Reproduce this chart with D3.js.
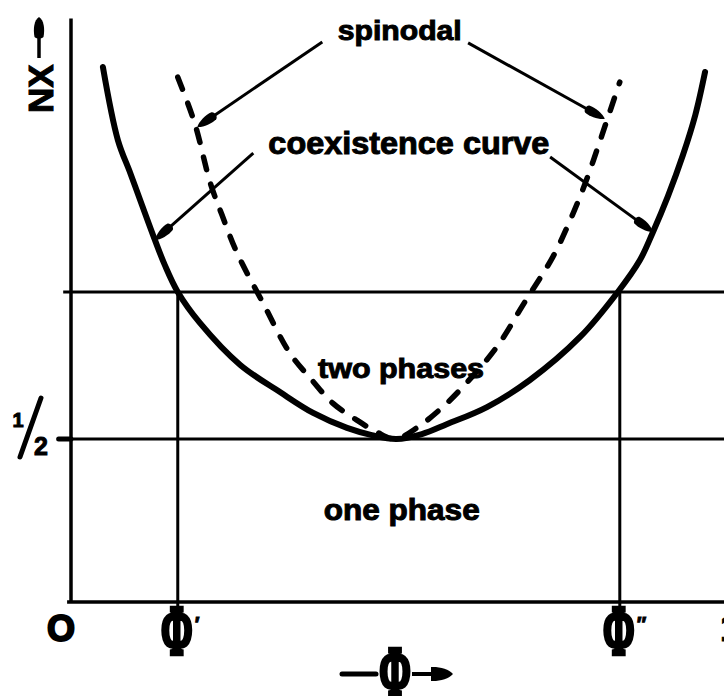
<!DOCTYPE html>
<html>
<head>
<meta charset="utf-8">
<script src="https://cdn.jsdelivr.net/npm/d3@7/dist/d3.min.js"></script>
<style>
  html, body { margin: 0; padding: 0; background: #fff; }
  svg { display: block; }
  text { font-family: "Liberation Sans", Arial, sans-serif; font-weight: bold; fill: #000; stroke: #000; stroke-width: 1px; }
  .serif { font-family: "Liberation Serif", "Times New Roman", serif; stroke-width: 2.4px; }
</style>
</head>
<body>
<script>
// Coexistence curve (binodal): composition Φ vs. NX
const coexPhi = [0.049, 0.072, 0.091, 0.109, 0.129, 0.144, 0.164, 0.198, 0.260, 0.321, 0.372, 0.424, 0.462, 0.500,
                 0.539, 0.578, 0.639, 0.705, 0.782, 0.840, 0.874, 0.894, 0.917, 0.940, 0.959, 0.974];
const coexNX  = [1.641, 1.417, 1.316, 1.218, 1.110, 1.034, 0.951, 0.856, 0.727, 0.644, 0.580, 0.534, 0.512, 0.500,
                 0.515, 0.546, 0.598, 0.681, 0.813, 0.951, 1.049, 1.135, 1.245, 1.371, 1.494, 1.626];

// Spinodal
const spinPhi = [0.164, 0.190, 0.214, 0.232, 0.255, 0.295, 0.336, 0.370, 0.402, 0.439, 0.470, 0.498,
                 0.531, 0.571, 0.602, 0.654, 0.697, 0.740, 0.767, 0.790, 0.808, 0.825, 0.843];
const spinNX  = [1.610, 1.469, 1.285, 1.187, 1.071, 0.917, 0.764, 0.681, 0.610, 0.558, 0.521, 0.500,
                 0.534, 0.598, 0.660, 0.782, 0.920, 1.058, 1.172, 1.285, 1.387, 1.488, 1.595];

// Reference levels and the two coexisting compositions
const nxLevels = [0.951, 0.5];
const nxTickLabel = ["1", "2"];           // drawn as the fraction 1/2
const phiCoexisting = [0.164, 0.843];
const phiCoexistingLabels = ["Φ", "Φ"];
const phiPrimes = ["′", "″"];

// Region labels and annotation arrows (Φ, NX)
const regionLabels = [
  { text: "two phases", phi: 0.507, nx: 0.687, size: 28, len: 166 },
  { text: "one phase",  phi: 0.508, nx: 0.252, size: 30, len: 156 }
];
const curveLabels = [
  { text: "spinodal",          phi: 0.505, nx: 1.724, size: 28, len: 124 },
  { text: "coexistence curve", phi: 0.519, nx: 1.374, size: 31, len: 281 }
];
const arrows = [
  { from: [0.386, 1.718], to: [0.194, 1.457] },
  { from: [0.610, 1.715], to: [0.820, 1.482] },
  { from: [0.280, 1.377], to: [0.129, 1.110] },
  { from: [0.736, 1.365], to: [0.894, 1.135] }
];

const W = 724, H = 696;
const svg = d3.select("body").append("svg").attr("width", W).attr("height", H);

const x = d3.scaleLinear().domain([0, 1]).range([71, 722]);
const y = d3.scaleLinear().domain([0, 1.8]).range([602, 15.2]);

const ink = "#000";

// Axes frame
svg.append("line").attr("x1", x(0)).attr("x2", x(0)).attr("y1", y(0) + 1).attr("y2", y(1.79))
  .attr("stroke", ink).attr("stroke-width", 3.5);
svg.append("line").attr("x1", x(-0.006)).attr("x2", x(1.01)).attr("y1", y(0)).attr("y2", y(0))
  .attr("stroke", ink).attr("stroke-width", 3.5);

// Horizontal reference levels
svg.append("line").attr("x1", x(-0.012)).attr("x2", x(1.01)).attr("y1", y(nxLevels[0])).attr("y2", y(nxLevels[0]))
  .attr("stroke", ink).attr("stroke-width", 3);
svg.append("line").attr("x1", x(-0.019)).attr("x2", x(1.01)).attr("y1", y(nxLevels[1])).attr("y2", y(nxLevels[1]))
  .attr("stroke", ink).attr("stroke-width", 3);
svg.append("line").attr("x1", x(-0.019)).attr("x2", x(0)).attr("y1", y(nxLevels[1])).attr("y2", y(nxLevels[1]))
  .attr("stroke", ink).attr("stroke-width", 5).attr("stroke-linecap", "round");

// Verticals at the coexisting compositions
phiCoexisting.forEach(p => {
  svg.append("line").attr("x1", x(p)).attr("x2", x(p)).attr("y1", y(nxLevels[0])).attr("y2", y(0) + 6)
    .attr("stroke", ink).attr("stroke-width", 3);
});

// Curves
const line = d3.line().x(d => x(d[0])).y(d => y(d[1])).curve(d3.curveCatmullRom.alpha(0.5));
svg.append("path").datum(coexPhi.map((p, i) => [p, coexNX[i]])).attr("d", line)
  .attr("fill", "none").attr("stroke", ink).attr("stroke-width", 6).attr("stroke-linecap", "round");
svg.append("path").datum(spinPhi.map((p, i) => [p, spinNX[i]])).attr("d", line)
  .attr("fill", "none").attr("stroke", ink).attr("stroke-width", 5.5).attr("stroke-linecap", "round")
  .attr("stroke-dasharray", "13 15");

// Leaf-shaped arrow head, tip at origin pointing along +x
const headPath = "M0,0 C-4,-3.5 -14,-5.5 -20,-4.2 C-23,-3 -23,3 -20,4.2 C-14,5.5 -4,3.5 0,0 Z";
function arrow(x1, y1, x2, y2, w, head) {
  const ang = Math.atan2(y2 - y1, x2 - x1);
  const g = svg.append("g");
  g.append("line").attr("x1", x1).attr("y1", y1)
    .attr("x2", x2 - 10 * Math.cos(ang)).attr("y2", y2 - 10 * Math.sin(ang))
    .attr("stroke", ink).attr("stroke-width", w);
  g.append("path").attr("d", head || headPath).attr("fill", ink)
    .attr("transform", `translate(${x2},${y2}) rotate(${ang * 180 / Math.PI})`);
}
arrows.forEach(a => arrow(x(a.from[0]), y(a.from[1]), x(a.to[0]), y(a.to[1]), 3));

// Curve and region labels
curveLabels.concat(regionLabels).forEach(l => {
  svg.append("text").attr("x", x(l.phi)).attr("y", y(l.nx)).attr("text-anchor", "middle")
    .attr("font-size", l.size).attr("textLength", l.len).attr("lengthAdjust", "spacingAndGlyphs")
    .text(l.text);
});

// Origin and right end of the composition axis
svg.append("text").attr("x", x(0) - 10).attr("y", y(0) + 39).attr("text-anchor", "middle")
  .attr("font-size", 36).style("stroke-width", "2px").text("O");
svg.append("text").attr("x", x(1) - 2).attr("y", y(0) + 39).attr("text-anchor", "start")
  .attr("font-size", 36).text("1");

// Φ′ and Φ″ under the verticals
phiCoexisting.forEach((p, i) => {
  svg.append("text").attr("class", "serif").attr("text-anchor", "middle")
    .attr("font-size", 38)
    .attr("transform", `translate(${x(p) - 1},${y(0) + 52}) scale(1,1.85)`)
    .text(phiCoexistingLabels[i]);
  svg.append("text").attr("x", x(p) + 17).attr("y", y(0) + 29).attr("font-size", 20)
    .text(phiPrimes[i]);
});

// Fraction 1/2 on the NX axis
const yHalf = y(nxLevels[1]);
svg.append("text").attr("x", 18).attr("y", yHalf - 12).attr("text-anchor", "middle")
  .attr("font-size", 20).text(nxTickLabel[0]);
svg.append("line").attr("x1", 41).attr("y1", yHalf - 41).attr("x2", 20).attr("y2", yHalf + 18)
  .attr("stroke", ink).attr("stroke-width", 5).attr("stroke-linecap", "round");
svg.append("text").attr("x", 41).attr("y", yHalf + 16).attr("text-anchor", "middle")
  .attr("font-size", 25).text(nxTickLabel[1]);

// NX axis title with upward arrow
svg.append("text").attr("transform", `translate(53,113) rotate(-90)`)
  .attr("font-size", 35).attr("text-anchor", "start").text("NX");
arrow(39, 58, 39, 17, 3.5, "M0,0 C-3,-5 -12,-6 -20,-4.5 C-22,-2 -22,2 -20,4.5 C-12,6 -3,5 0,0 Z");

// Φ axis title: —Φ→
svg.append("line").attr("x1", 342).attr("x2", 376).attr("y1", 674).attr("y2", 674)
  .attr("stroke", ink).attr("stroke-width", 5).attr("stroke-linecap", "round");
svg.append("text").attr("class", "serif").attr("text-anchor", "middle").attr("font-size", 38)
  .attr("transform", `translate(395,695) scale(1,1.85)`).text("Φ");
arrow(412, 674, 453, 674, 4, "M0,0 C-4,-5 -14,-7.5 -22,-7 L-22,7 C-14,7.5 -4,5 0,0 Z");
</script>
</body>
</html>
